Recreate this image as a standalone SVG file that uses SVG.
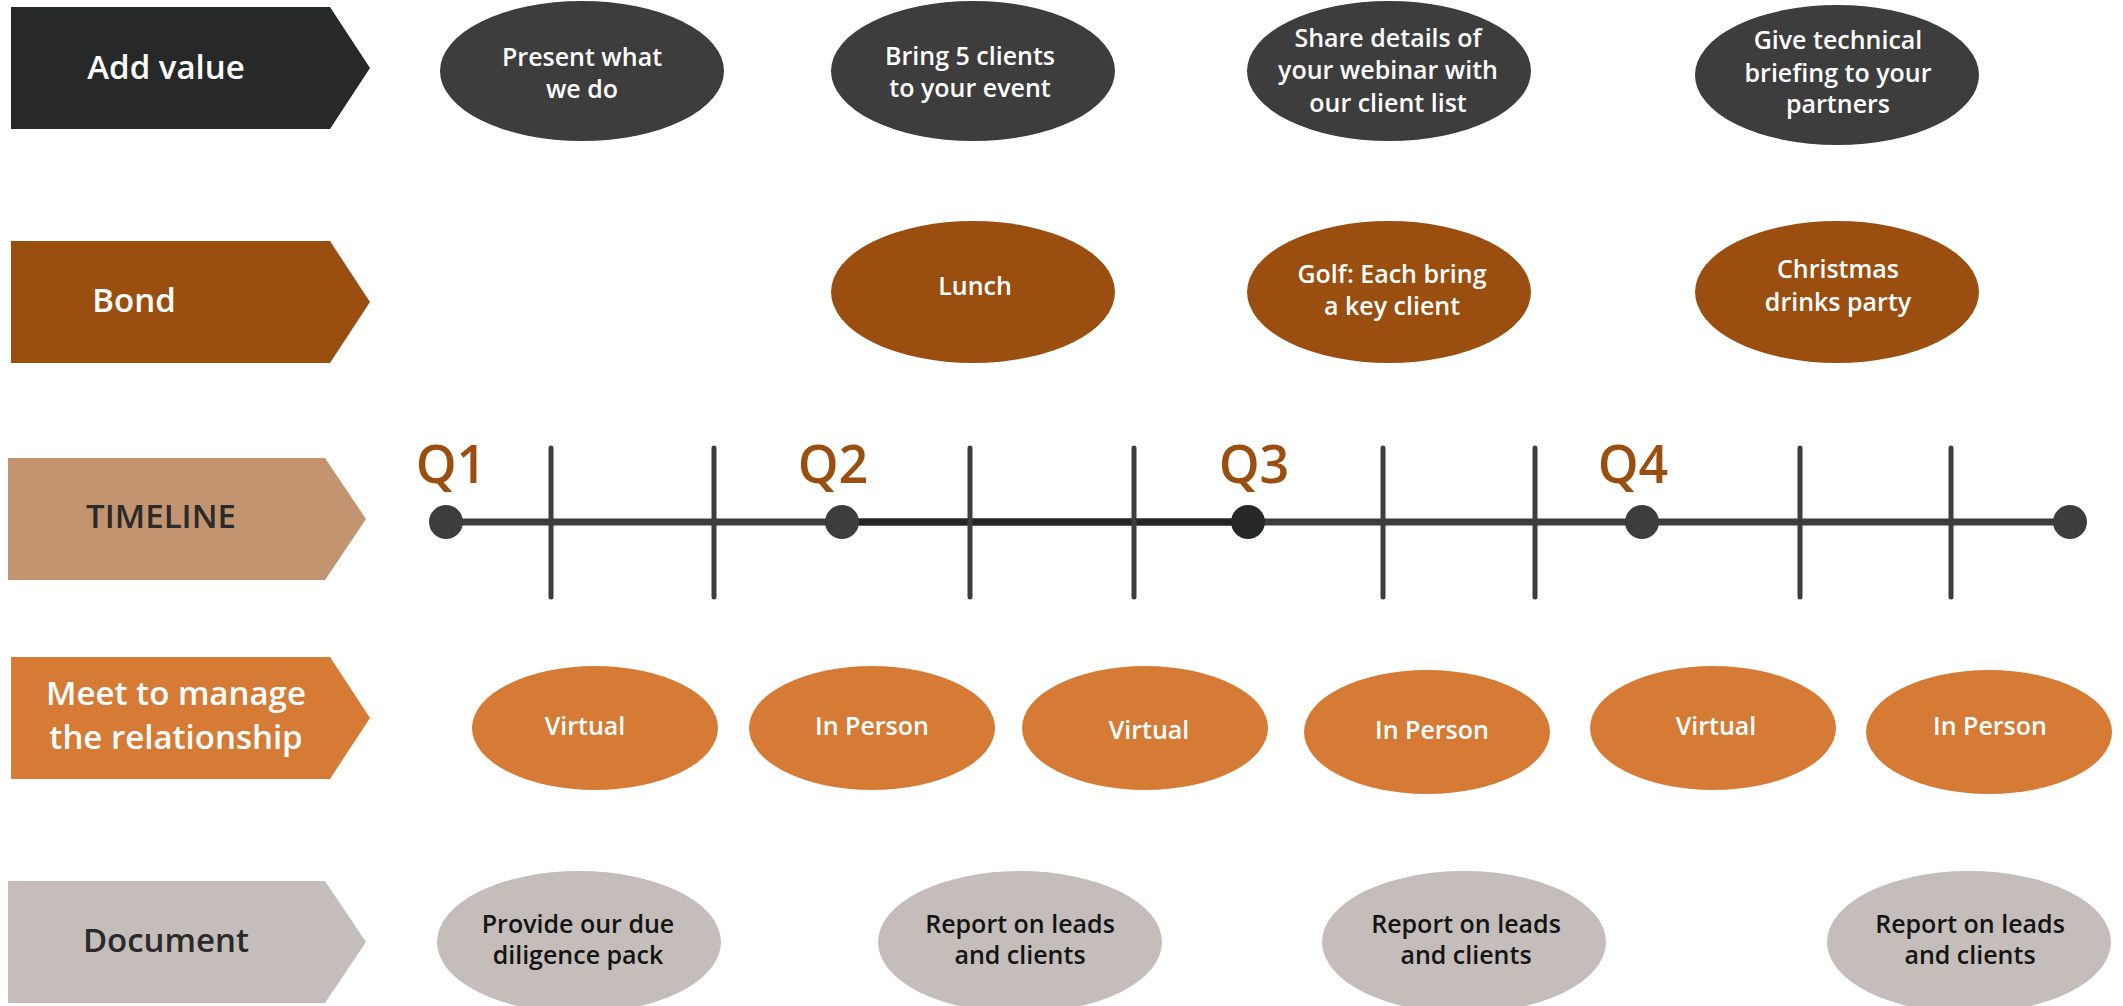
<svg xmlns="http://www.w3.org/2000/svg" width="2123" height="1006" viewBox="0 0 2123 1006">
<style>
text{font-family:"Open Sans","Liberation Sans",sans-serif;}
.lbl{font-size:33px;font-weight:600;text-anchor:middle;}
.w{fill:#ffffff;}
.d{fill:#2a2a2a;}
.et{font-size:25px;font-weight:600;text-anchor:middle;}
.dt{fill:#141414;}
.q{font-size:52px;font-weight:600;fill:#9a4f10;text-anchor:middle;}
.c1{fill:#3d3d3d;}
.c2{fill:#9a4f10;}
.c4{fill:#d57b35;}
.c5{fill:#c4bdb9;}
.tick{stroke:#3d3d3d;stroke-width:5;stroke-linecap:round;}
</style>
<rect width="2123" height="1006" fill="#ffffff"/>

<g id="label-add-value">
<polygon points="11,7 330,7 370,68 330,129 11,129" fill="#272928"/>
<text class="lbl w" x="166" y="79">Add value</text>
</g>
<g id="label-bond">
<polygon points="11,241 330,241 370,302 330,363 11,363" fill="#9a4f10"/>
<text class="lbl w" x="134" y="312">Bond</text>
</g>
<g id="label-timeline">
<polygon points="8,458 325,458 366,519 325,580 8,580" fill="#c39470"/>
<text class="lbl d" x="161" y="528">TIMELINE</text>
</g>
<g id="label-meet">
<polygon points="11,657 330,657 370,718 330,779 11,779" fill="#d57b35"/>
<text class="lbl w" x="176" y="705">Meet to manage</text>
<text class="lbl w" x="176" y="749">the relationship</text>
</g>
<g id="label-document">
<polygon points="8,881 325,881 366,942 325,1003 8,1003" fill="#c4bdb9"/>
<text class="lbl d" x="166" y="952">Document</text>
</g>

<g id="timeline">
<line x1="446" y1="522" x2="2070" y2="522" stroke="#3d3d3d" stroke-width="7"/>
<line x1="842" y1="522" x2="1248" y2="522" stroke="#242424" stroke-width="7"/>
<line class="tick" x1="551" y1="448" x2="551" y2="597"/>
<line class="tick" x1="714" y1="448" x2="714" y2="597"/>
<line class="tick" x1="970" y1="448" x2="970" y2="597"/>
<line class="tick" x1="1134" y1="448" x2="1134" y2="597"/>
<line class="tick" x1="1383" y1="448" x2="1383" y2="597"/>
<line class="tick" x1="1535" y1="448" x2="1535" y2="597"/>
<line class="tick" x1="1800" y1="448" x2="1800" y2="597"/>
<line class="tick" x1="1951" y1="448" x2="1951" y2="597"/>
<circle cx="446" cy="522" r="17" fill="#3d3d3d"/>
<circle cx="842" cy="522" r="17" fill="#3d3d3d"/>
<circle cx="1248" cy="522" r="17" fill="#262828"/>
<circle cx="1642" cy="522" r="17" fill="#3d3d3d"/>
<circle cx="2070" cy="522" r="17" fill="#3d3d3d"/>
<text class="q" x="451" y="483">Q1</text>
<text class="q" x="833" y="483">Q2</text>
<text class="q" x="1254" y="483">Q3</text>
<text class="q" x="1633" y="483">Q4</text>
</g>

<g id="av1"><ellipse class="c1" cx="582" cy="71" rx="142" ry="70"/>
<text class="et w" x="582" y="66">Present what</text><text class="et w" x="582" y="98">we do</text></g>
<g id="av2"><ellipse class="c1" cx="973" cy="71" rx="142" ry="70"/>
<text class="et w" x="970" y="65">Bring 5 clients</text><text class="et w" x="970" y="97">to your event</text></g>
<g id="av3"><ellipse class="c1" cx="1389" cy="71" rx="142" ry="70"/>
<text class="et w" x="1388" y="47">Share details of</text><text class="et w" x="1388" y="79">your webinar with</text><text class="et w" x="1388" y="112">our client list</text></g>
<g id="av4"><ellipse class="c1" cx="1837" cy="75" rx="142" ry="70"/>
<text class="et w" x="1838" y="49">Give technical</text><text class="et w" x="1838" y="82">briefing to your</text><text class="et w" x="1838" y="113">partners</text></g>

<g id="b1"><ellipse class="c2" cx="973" cy="292" rx="142" ry="71"/>
<text class="et w" x="975" y="295">Lunch</text></g>
<g id="b2"><ellipse class="c2" cx="1389" cy="292" rx="142" ry="71"/>
<text class="et w" x="1392" y="283">Golf: Each bring</text><text class="et w" x="1392" y="315">a key client</text></g>
<g id="b3"><ellipse class="c2" cx="1837" cy="292" rx="142" ry="71"/>
<text class="et w" x="1838" y="278">Christmas</text><text class="et w" x="1838" y="311">drinks party</text></g>

<g id="m1"><ellipse class="c4" cx="595" cy="728" rx="123" ry="62"/><text class="et w" x="585" y="735">Virtual</text></g>
<g id="m2"><ellipse class="c4" cx="872" cy="728" rx="123" ry="62"/><text class="et w" x="872" y="735">In Person</text></g>
<g id="m3"><ellipse class="c4" cx="1145" cy="728" rx="123" ry="62"/><text class="et w" x="1149" y="739">Virtual</text></g>
<g id="m4"><ellipse class="c4" cx="1427" cy="732" rx="123" ry="62"/><text class="et w" x="1432" y="739">In Person</text></g>
<g id="m5"><ellipse class="c4" cx="1713" cy="728" rx="123" ry="62"/><text class="et w" x="1716" y="735">Virtual</text></g>
<g id="m6"><ellipse class="c4" cx="1989" cy="732" rx="123" ry="62"/><text class="et w" x="1990" y="735">In Person</text></g>

<g id="d1"><ellipse class="c5" cx="579" cy="942" rx="142" ry="71"/>
<text class="et dt" x="578" y="933">Provide our due</text><text class="et dt" x="578" y="964">diligence pack</text></g>
<g id="d2"><ellipse class="c5" cx="1020" cy="942" rx="142" ry="71"/>
<text class="et dt" x="1020" y="933">Report on leads</text><text class="et dt" x="1020" y="964">and clients</text></g>
<g id="d3"><ellipse class="c5" cx="1464" cy="942" rx="142" ry="71"/>
<text class="et dt" x="1466" y="933">Report on leads</text><text class="et dt" x="1466" y="964">and clients</text></g>
<g id="d4"><ellipse class="c5" cx="1969" cy="942" rx="142" ry="71"/>
<text class="et dt" x="1970" y="933">Report on leads</text><text class="et dt" x="1970" y="964">and clients</text></g>
</svg>
